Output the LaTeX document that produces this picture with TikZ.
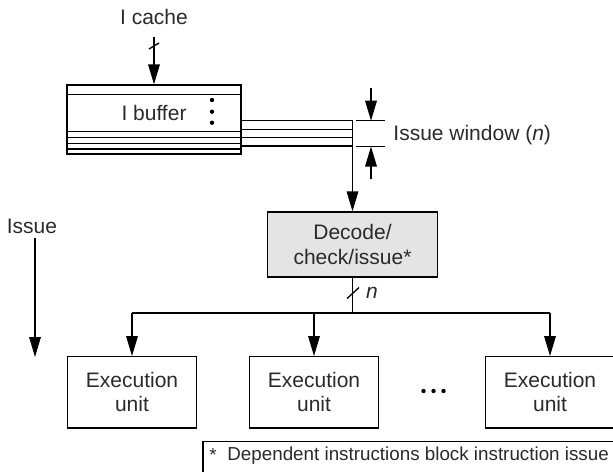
\documentclass[tikz,border=0pt]{standalone}
\usepackage{fontspec}
\setmainfont{Liberation Sans}
\usetikzlibrary{arrows.meta,calc}
\definecolor{inkgray}{HTML}{2A2A2A}
\definecolor{panelgray}{HTML}{E4E4E4}
\begin{document}
\begin{tikzpicture}[x=0.5pt,y=-0.5pt,
  every node/.style={font=\fontsize{10.5}{12.15}\selectfont, inner sep=0pt, text=inkgray},
  wire/.style={line width=0.65pt},
  arr/.style={wire,-{Triangle[length=10pt,width=5.8pt]}},
  unitbox/.style={draw, line width=0.65pt, minimum width=64.5pt, minimum height=35.6pt, align=center},
  decbox/.style={draw, line width=0.65pt, fill=panelgray, minimum width=85pt, minimum height=32.5pt, align=center},
  bufbox/.style={draw, line width=0.65pt, minimum width=87pt, minimum height=34.5pt},
  notefont/.style={font=\fontsize{9.4}{11}\selectfont},
  dotmark/.style={fill=black}]
\useasboundingbox (0,0) rectangle (613,471);

% instruction cache feeding the buffer
\node (icache) at (154,17) {I cache};
\node[bufbox] (ibuf) at (154,119.5) {};
\node (ibuftext) at (154,113) {I buffer};
\draw[arr] ([yshift=-6pt]icache.south) -- (ibuf.north);
\coordinate (cslash) at (154,46);
\draw[wire] ($(cslash)+(-5,3)$) -- ($(cslash)+(5,-3)$);

% buffer slots
\foreach \yy in {94.3,131.7,137.3,143.3,149}
  \draw[wire] (ibuf.west |- 0,\yy) -- (ibuf.east |- 0,\yy);
\foreach \yy in {100,111.7,122.7}
  \fill[dotmark] (212,\yy) circle (1.1pt);

% issue window: the lowest slots go to the decoder
\node[decbox] (decode) at (352.5,244.5) {Decode/\\check/issue*};
\coordinate (win) at (352.5,120.7);
\foreach \yy in {120.7,129.3,137.3,146}
  \draw[wire] (ibuf.east |- 0,\yy) -- (win |- 0,\yy);
\draw[arr] (win) -- (decode.north);

% window size marker
\coordinate (wtop) at (371,120.7);
\coordinate (wbot) at (371,146.5);
\draw[wire] (356,120.7) -- (385,120.7);
\draw[wire] (356,146.5) -- (385,146.5);
\draw[arr] (371,88) -- (wtop);
\draw[arr] (371,179) -- (wbot);
\node[anchor=west] (wlabel) at (393,135) {Issue window (\textit{n})};

% issue direction
\node (issue) at (32,226) {Issue};
\coordinate (issuetip) at (35,357);
\draw[arr] (35,238) -- (issuetip);

% distribution bus to the execution units
\node[unitbox] (ex1) at (132,392.3) {Execution\\unit};
\node[unitbox] (ex2) at (314,392.3) {Execution\\unit};
\node[unitbox] (ex3) at (550,392.3) {Execution\\unit};
\coordinate (busL) at (ex1.north |- 0,313);
\coordinate (busR) at (ex3.north |- 0,313);
\coordinate (busM) at (decode.south |- 0,313);
\draw[wire] (decode.south) -- (busM);
\coordinate (nslash) at (353,293);
\draw[wire] ($(nslash)+(-6,5.5)$) -- ($(nslash)+(6,-5.5)$);
\node (nlabel) at (372,293) {\textit{n}};
\draw[wire] (busL) -- (busR);
\draw[arr] (busL) -- (ex1.north);
\draw[arr] (ex2.north |- busL) -- (ex2.north);
\draw[arr] (busR) -- (ex3.north);
\foreach \xx in {423.5,433.5,443.5}
  \fill[dotmark] (\xx,391) circle (1.1pt);

% footnote
\node[draw, line width=0.65pt, anchor=north west, minimum width=215pt, minimum height=25pt] (note) at (202.3,440.7) {};
\node[notefont, anchor=west] (star) at (209,455) {*};
\node[notefont, anchor=west] (notetext) at (227,456) {Dependent instructions block instruction issue};
\end{tikzpicture}
\end{document}
